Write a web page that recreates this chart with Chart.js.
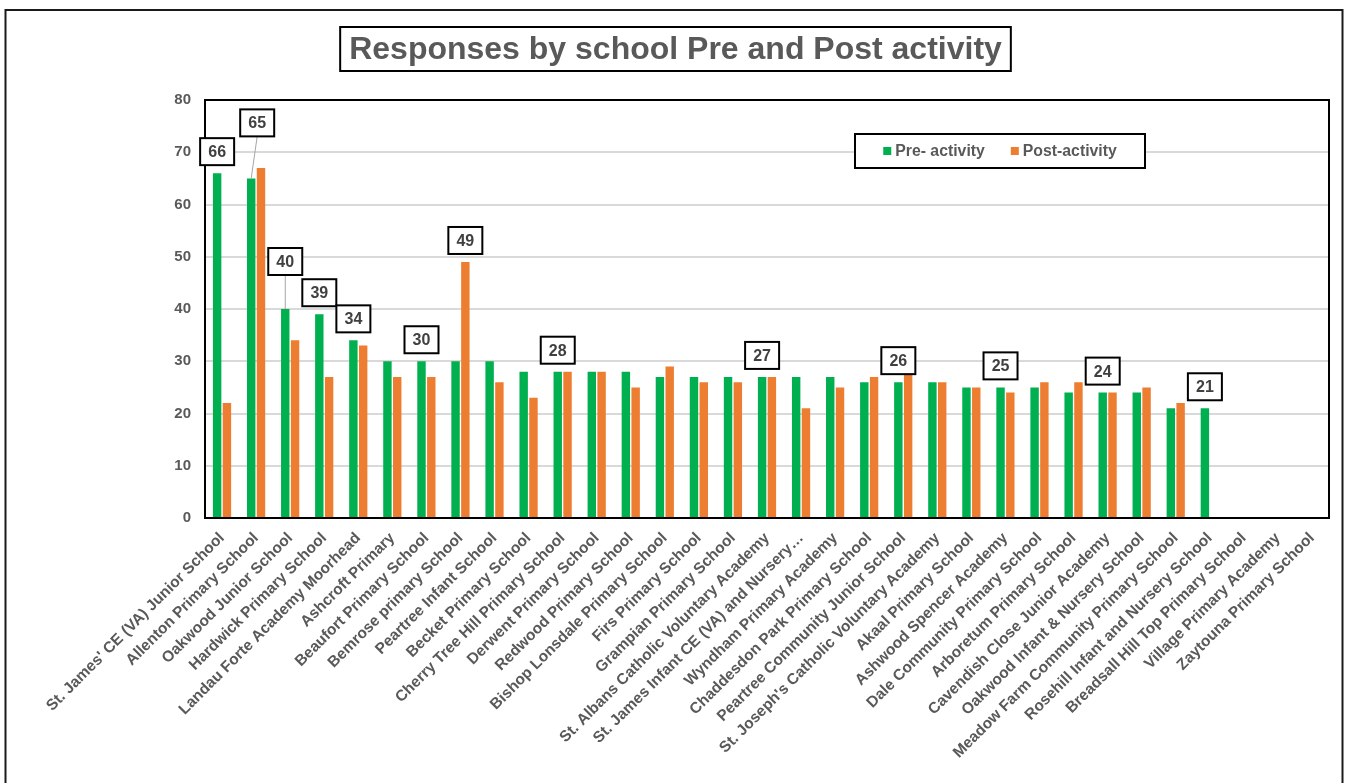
<!DOCTYPE html>
<html><head><meta charset="utf-8">
<script src="https://cdn.jsdelivr.net/npm/chart.js@4/dist/chart.umd.min.js"></script>
<style>html,body{margin:0;padding:0;background:#fff;overflow:hidden}</style>
</head><body>
<canvas id="c" width="1348" height="783"></canvas>
<script>
const chartTitle = 'Responses by school Pre and Post activity';
const schools = [
  "St. James' CE (VA) Junior School", "Allenton Primary School", "Oakwood Junior School",
  "Hardwick Primary School", "Landau Forte Academy Moorhead", "Ashcroft Primary",
  "Beaufort Primary School", "Bemrose primary School", "Peartree Infant School",
  "Becket Primary School", "Cherry Tree Hill Primary School", "Derwent Primary School",
  "Redwood Primary School", "Bishop Lonsdale Primary School", "Firs Primary School",
  "Grampian Primary School", "St. Albans Catholic Voluntary Academy",
  "St. James Infant CE (VA) and Nursery\u2026", "Wyndham Primary Academy",
  "Chaddesdon Park Primary School", "Peartree Community Junior School",
  "St. Joseph's Catholic Voluntary Academy", "Akaal Primary School",
  "Ashwood Spencer Academy", "Dale Community Primary School", "Arboretum Primary School",
  "Cavendish Close Junior Academy", "Oakwood Infant & Nursery School",
  "Meadow Farm Community Primary School", "Rosehill Infant and Nursery School",
  "Breadsall Hill Top Primary School", "Village Primary Academy", "Zaytouna Primary School"
];
const seriesNames = ['Pre- activity', 'Post-activity'];
const preActivity  = [66,65,40,39,34,30,30,30,30,28,28,28,28,27,27,27,27,27,27,26,26,26,25,25,25,24,24,24,21,21,null,null,null];
const postActivity = [22,67,34,27,33,27,27,49,26,23,28,28,25,29,26,26,27,21,25,27,28,26,25,24,26,26,24,25,22,null,null,null,null];
const yTickValues = [0,10,20,30,40,50,60,70,80];
// data labels shown (which series, which category)
const labelSeries = [0,0,0,0,0,0,1,0,0,0,0,0,0];
const labelIndex  = [0,1,2,3,4,6,7,10,16,20,23,26,29];

// ---- styling ----
const GREEN = '#00B050', ORANGE = '#ED7D31', TXT = '#595959';
const FONT = '"Liberation Sans", Arial, sans-serif';
const labelStyle = { // per-label callout placement (dx px, lift px)
  1: {dx: 6, lift: 42},
  2: {dx: 0, lift: 34}
};

const overlay = {
  id: 'overlay',
  afterDatasetsDraw(chart) {
    const ctx = chart.ctx, ca = chart.chartArea;
    ctx.save();
    // plot frame
    ctx.strokeStyle = '#000'; ctx.lineWidth = 2;
    ctx.strokeRect(ca.left, ca.top, ca.right - ca.left, ca.bottom - ca.top);
    // data label callouts
    ctx.font = 'bold 16px ' + FONT;
    ctx.textAlign = 'center'; ctx.textBaseline = 'middle';
    labelIndex.forEach((idx, k) => {
      const ds = labelSeries[k];
      const el = chart.getDatasetMeta(ds).data[idx];
      const val = chart.data.datasets[ds].data[idx];
      const st = labelStyle[k] || {dx: 0, lift: 8};
      const w = 34, h = 27;
      const cx = el.x + st.dx, bottom = el.y - st.lift;
      if (st.lift > 15) {
        ctx.strokeStyle = '#a6a6a6'; ctx.lineWidth = 1;
        ctx.beginPath(); ctx.moveTo(cx, bottom); ctx.lineTo(el.x, el.y); ctx.stroke();
      }
      ctx.fillStyle = '#fff';
      ctx.fillRect(cx - w/2, bottom - h, w, h);
      ctx.strokeStyle = '#000'; ctx.lineWidth = 2;
      ctx.strokeRect(cx - w/2, bottom - h, w, h);
      ctx.fillStyle = '#404040';
      ctx.fillText(String(val), cx, bottom - h/2 + 1);
    });
    // legend
    const lx = ca.right - 474, ly = ca.top + 34, lw = 290, lh = 34;
    ctx.fillStyle = '#fff'; ctx.fillRect(lx, ly, lw, lh);
    ctx.strokeStyle = '#000'; ctx.lineWidth = 2; ctx.strokeRect(lx, ly, lw, lh);
    ctx.font = 'bold 15.8px ' + FONT; ctx.textAlign = 'left';
    const cols = [GREEN, ORANGE];
    const widths = seriesNames.map(n => ctx.measureText(n).width);
    const total = 8 + 4 + widths[0] + 26 + 8 + 4 + widths[1];
    let x = lx + (lw - total) / 2;
    seriesNames.forEach((n, i) => {
      ctx.fillStyle = cols[i]; ctx.fillRect(x, ly + lh/2 - 4, 8, 8);
      x += 12;
      ctx.fillStyle = TXT; ctx.fillText(n, x, ly + lh/2 + 1);
      x += widths[i] + 26;
    });
    ctx.restore();
  },
  afterDraw(chart) {
    const ctx = chart.ctx;
    ctx.save();
    // title box
    ctx.font = 'bold 32px ' + FONT;
    ctx.textAlign = 'center'; ctx.textBaseline = 'middle';
    const tw = ctx.measureText(chartTitle).width;
    const cx = 675.5, cy = 49;
    const bw = tw + 18, bh = 44;
    ctx.fillStyle = '#fff'; ctx.fillRect(cx - bw/2, cy - bh/2, bw, bh);
    ctx.strokeStyle = '#000'; ctx.lineWidth = 2; ctx.strokeRect(cx - bw/2, cy - bh/2, bw, bh);
    ctx.fillStyle = TXT; ctx.fillText(chartTitle, cx, cy + 1);
    // outer chart border
    ctx.strokeStyle = '#1a1a1a'; ctx.lineWidth = 2;
    ctx.strokeRect(5.5, 10, chart.width - 11, chart.height + 10);
    ctx.restore();
  }
};

new Chart(document.getElementById('c'), {
  type: 'bar',
  data: {
    labels: schools,
    datasets: [
      { label: seriesNames[0], data: preActivity, backgroundColor: GREEN },
      { label: seriesNames[1], data: postActivity, backgroundColor: ORANGE }
    ]
  },
  options: {
    responsive: false, animation: false, devicePixelRatio: 1,
    categoryPercentage: 0.575, barPercentage: 0.86,
    layout: { padding: { left: 145, top: 100, right: 19, bottom: 0 } },
    plugins: { legend: { display: false }, title: { display: false }, tooltip: { enabled: false } },
    scales: {
      x: {
        grid: { display: false }, border: { display: false },
        ticks: {
          autoSkip: false, minRotation: 45, maxRotation: 45, padding: 3,
          color: TXT, font: { family: FONT, size: 15.5, weight: 'bold' }
        },
        afterFit(s) { s.height = 265; }
      },
      y: {
        min: 0, max: 80,
        afterBuildTicks(s) { s.ticks = yTickValues.map(v => ({ value: v })); },
        grid: { color: '#d9d9d9', lineWidth: 2, drawTicks: false },
        border: { display: false },
        ticks: { padding: 14, color: TXT, font: { family: FONT, size: 15, weight: 'bold' } },
        afterFit(s) { s.width = 60; }
      }
    }
  },
  plugins: [overlay]
});
</script>
</body></html>
